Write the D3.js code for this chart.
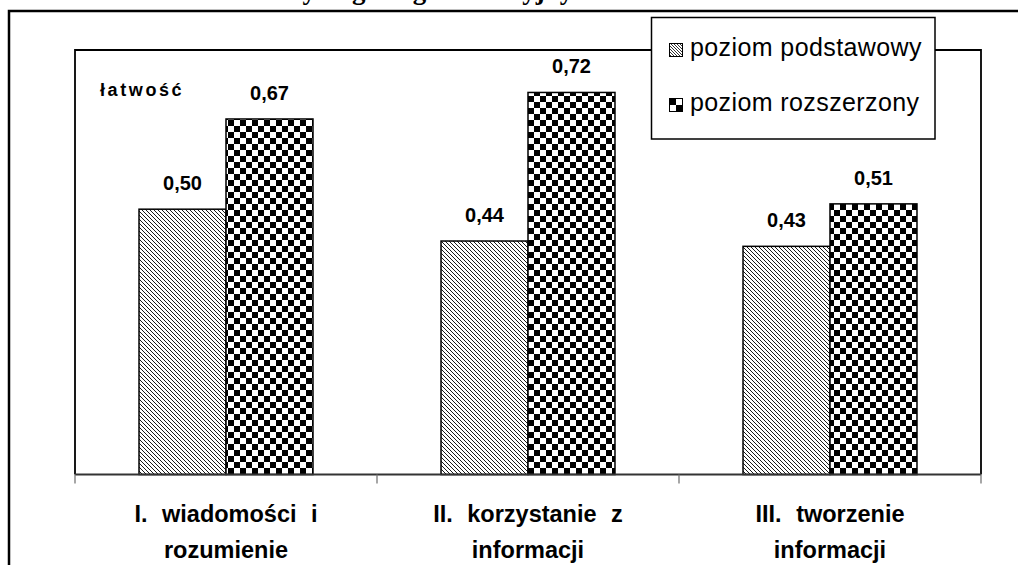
<!DOCTYPE html>
<html><head><meta charset="utf-8">
<script src="https://cdn.jsdelivr.net/npm/d3@7"></script>
<style>body{margin:0;background:#fff}</style>
</head><body>
<svg id="c" width="1018" height="565"></svg>
<script>
const categories = [["I. wiadomości i","rozumienie"],["II. korzystanie z","informacji"],["III. tworzenie","informacji"]];
const seriesNames = ["poziom podstawowy","poziom rozszerzony"];
const podstawowy = [0.50, 0.44, 0.43];
const rozszerzony = [0.67, 0.72, 0.51];
const yAxisLabel = "łatwość";
const titlePrefix = "Łatwość w obszarach standardów ";
const titleRest = "wymagań egzaminacyjnych";

const svg = d3.select("#c");
const defs = svg.append("defs");
const ph = defs.append("pattern").attr("id","hatch").attr("patternUnits","userSpaceOnUse").attr("width",4).attr("height",4);
ph.append("rect").attr("width",4).attr("height",4).attr("fill","#fff");
ph.append("path").attr("d","M-1,-1L5,5M3,-1L5,1M-1,3L1,5").attr("stroke","#000").attr("stroke-width",0.9);
const pc = defs.append("pattern").attr("id","check").attr("patternUnits","userSpaceOnUse").attr("width",12).attr("height",12);
pc.append("rect").attr("width",12).attr("height",12).attr("fill","#fff");
pc.append("rect").attr("width",6).attr("height",6).attr("fill","#000");
pc.append("rect").attr("x",6).attr("y",6).attr("width",6).attr("height",6).attr("fill","#000");
const phs = defs.append("pattern").attr("id","hatchS").attr("patternUnits","userSpaceOnUse").attr("width",3).attr("height",3);
phs.append("rect").attr("width",3).attr("height",3).attr("fill","#fff");
phs.append("path").attr("d","M-1,-1L4,4M2,-1L4,1M-1,2L1,4").attr("stroke","#000").attr("stroke-width",0.8);
const pcs = defs.append("pattern").attr("id","checkS").attr("patternUnits","userSpaceOnUse").attr("width",14).attr("height",14).attr("x",669).attr("y",98);
pcs.append("rect").attr("width",14).attr("height",14).attr("fill","#000");
pcs.append("rect").attr("x",7).attr("width",7).attr("height",7).attr("fill","#fff");
pcs.append("rect").attr("y",7).attr("width",7).attr("height",7).attr("fill","#fff");

const fills = ["url(#hatch)","url(#check)"];
const swatchFills = ["url(#hatchS)","url(#checkS)"];

// title (cut off at top, as in the reference)
svg.append("text").attr("x",283).attr("y",-1).attr("text-anchor","end")
  .attr("font-family","Liberation Serif, Times New Roman, serif").attr("font-weight","bold").attr("font-size",27)
  .text(titlePrefix);
svg.append("text").attr("x",283).attr("y",-1)
  .attr("font-family","Liberation Serif, Times New Roman, serif").attr("font-weight","bold").attr("font-size",27)
  .text(titleRest);

// outer frame
svg.append("path").attr("d","M9,565V11H1018").attr("fill","none").attr("stroke","#000").attr("stroke-width",2.5);

const L=75, R=981, T=50, B=474.5;
const x0 = d3.scaleBand().domain(d3.range(categories.length)).range([L,R]).paddingInner(0).paddingOuter(0);
const x1 = d3.scaleBand().domain(d3.range(seriesNames.length)).range([0,x0.bandwidth()]).paddingInner(0).paddingOuter(0.736);
const y = d3.scaleLinear().domain([0,0.8]).range([B,T]);

// plot frame
svg.append("path").attr("d",`M${L},${B}V${T}H${R}V${B}`).attr("fill","none").attr("stroke","#000").attr("stroke-width",1.8);

const series = [podstawowy, rozszerzony];
const fmt = v => d3.format(".2f")(v).replace(".",",");
series.forEach((vals,si)=>{
  svg.append("g").selectAll("rect").data(vals).join("rect")
    .attr("x",(d,i)=>x0(i)+x1(si)).attr("width",x1.bandwidth())
    .attr("y",d=>y(d)).attr("height",d=>B-y(d))
    .attr("fill",fills[si]).attr("stroke","#000").attr("stroke-width",1.5);
  svg.append("g").selectAll("text").data(vals).join("text")
    .attr("x",(d,i)=>x0(i)+x1(si)+x1.bandwidth()/2).attr("y",d=>y(d)-19)
    .attr("text-anchor","middle").attr("font-family","Liberation Sans, Arial, sans-serif")
    .attr("font-weight","bold").attr("font-size",20).text(fmt);
});

// x axis
const xa = svg.append("g");
xa.append("line").attr("x1",L).attr("x2",R).attr("y1",B).attr("y2",B).attr("stroke","#333").attr("stroke-width",1.8);
xa.selectAll("line.tk").data(d3.range(categories.length+1)).join("line").attr("class","tk")
  .attr("x1",i=>i<categories.length?x0(i):R).attr("x2",i=>i<categories.length?x0(i):R)
  .attr("y1",B).attr("y2",B+9).attr("stroke","#777").attr("stroke-width",1.3);
categories.forEach((lines,i)=>{
  const t = xa.append("text").attr("text-anchor","middle")
    .attr("font-family","Liberation Sans, Arial, sans-serif").attr("font-weight","bold").attr("font-size",23.5)
    .attr("word-spacing",8);
  lines.forEach((ln,j)=>t.append("tspan").attr("x",x0(i)+x0.bandwidth()/2).attr("y",522+j*36).text(ln));
});

// y label
svg.append("text").attr("x",100).attr("y",96).attr("font-family","Liberation Sans, Arial, sans-serif")
  .attr("font-weight","bold").attr("font-size",18).attr("letter-spacing",2.6).text(yAxisLabel);

// legend
const lg = svg.append("g");
lg.append("rect").attr("x",651.5).attr("y",17.5).attr("width",283.5).attr("height",121.5)
  .attr("fill","#fff").attr("stroke","#000").attr("stroke-width",1.5);
seriesNames.forEach((n,i)=>{
  lg.append("rect").attr("x",669.5).attr("y",43.5+i*55).attr("width",13).attr("height",13)
    .attr("fill",swatchFills[i]).attr("stroke","#000").attr("stroke-width",1);
  lg.append("text").attr("x",690).attr("y",56+i*55).attr("font-family","Liberation Sans, Arial, sans-serif")
    .attr("font-size",25).attr("letter-spacing",0.4).text(n);
});
</script>
</body></html>
